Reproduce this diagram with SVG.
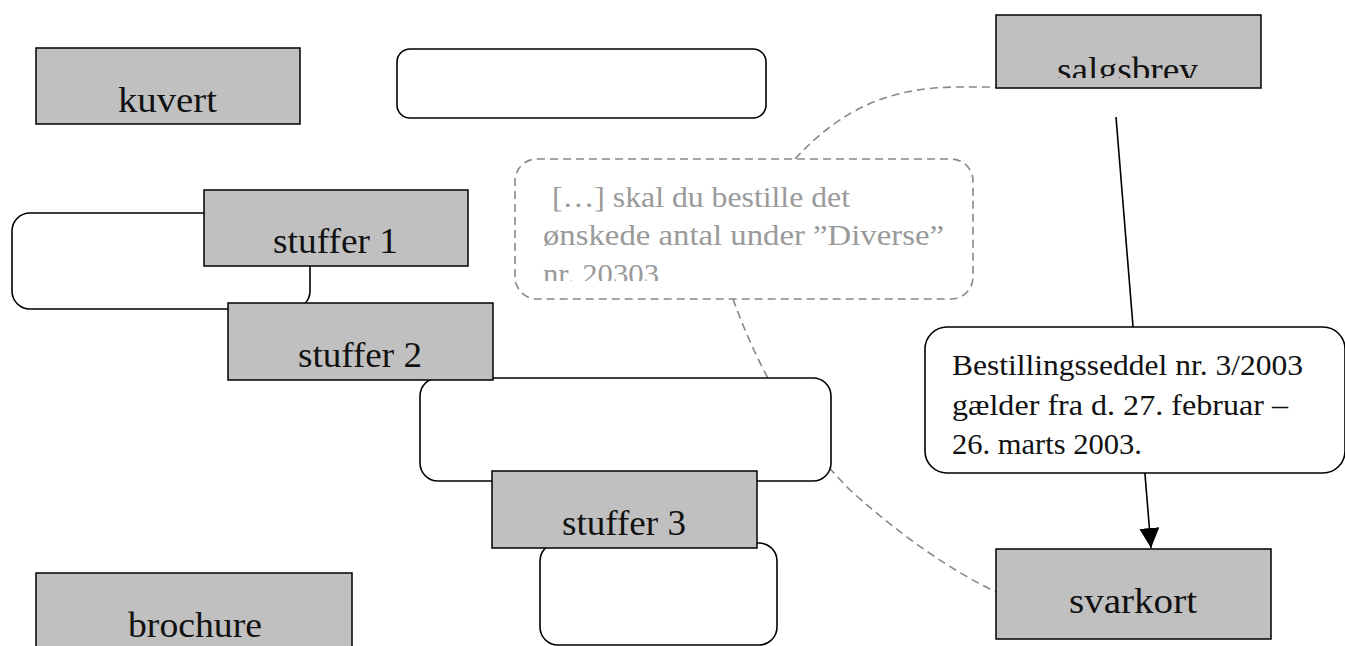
<svg xmlns="http://www.w3.org/2000/svg" width="1345" height="646" viewBox="0 0 1345 646">
<style>
.box{fill:#c0c0c0;stroke:#000;stroke-width:1.5}
.rr{fill:#fff;stroke:#000;stroke-width:1.6}
.lbl{font-family:"Liberation Serif",serif;font-size:35px;fill:#111}
.txt{font-family:"Liberation Serif",serif;font-size:29px;fill:#111}
.gtxt{font-family:"Liberation Serif",serif;font-size:30px;fill:#9a9a9a}
.dash{fill:none;stroke:#888;stroke-width:1.6;stroke-dasharray:8 5}
.solid{fill:none;stroke:#000;stroke-width:1.6}
</style>
<defs>
<marker id="arr" markerUnits="userSpaceOnUse" markerWidth="20" markerHeight="20" refX="20" refY="10" orient="auto">
<path d="M0,0 L20,10 L0,20 z" fill="#000"/>
</marker>
<clipPath id="clipSalg"><rect x="996" y="15" width="265" height="63"/></clipPath>
<clipPath id="clipNote"><rect x="515" y="159" width="458" height="122"/></clipPath>
</defs>
<g id="connectors">
<path class="dash" d="M795,159 C845,105 895,87 960,87 L996,87"/>
<path class="dash" d="M733,299 C755,360 790,430 850,490 C900,535 950,570 996,592"/>
<line class="solid" x1="1116" y1="117" x2="1151" y2="548" marker-end="url(#arr)"/>
</g>
<g id="kuvert">
<rect class="box" x="36" y="48" width="264" height="76"/>
<text class="lbl" x="118" y="112" textLength="99" lengthAdjust="spacingAndGlyphs">kuvert</text>
</g>
<g id="blank-top">
<rect class="rr" x="397" y="49" width="369" height="69" rx="13" ry="13"/>
</g>
<g id="salgsbrev">
<rect class="box" x="996" y="15" width="265" height="73"/>
<text class="lbl" x="1057" y="82" textLength="141" lengthAdjust="spacingAndGlyphs" clip-path="url(#clipSalg)">salgsbrev</text>
</g>
<g id="blank-left">
<rect class="rr" x="12" y="213" width="298" height="96" rx="18" ry="18"/>
</g>
<g id="stuffer1">
<rect class="box" x="204" y="190" width="264" height="76"/>
<text class="lbl" x="273" y="253" textLength="125" lengthAdjust="spacingAndGlyphs">stuffer 1</text>
</g>
<g id="blank-middle">
<rect class="rr" x="420" y="378" width="411" height="103" rx="18" ry="18"/>
</g>
<g id="stuffer2">
<rect class="box" x="228" y="303" width="265" height="77"/>
<text class="lbl" x="298" y="367" textLength="124" lengthAdjust="spacingAndGlyphs">stuffer 2</text>
</g>
<g id="blank-bottom">
<rect class="rr" x="540" y="543" width="237" height="102" rx="18" ry="18"/>
</g>
<g id="stuffer3">
<rect class="box" x="492" y="471" width="265" height="77"/>
<text class="lbl" x="562" y="535" textLength="124" lengthAdjust="spacingAndGlyphs">stuffer 3</text>
</g>
<g id="note">
<rect class="dash" x="515" y="159" width="458" height="140" rx="22" ry="22" style="fill:#fff"/>
<g clip-path="url(#clipNote)">
<text class="gtxt" x="552" y="207" textLength="298" lengthAdjust="spacingAndGlyphs">[…] skal du bestille det</text>
<text class="gtxt" x="543" y="245" textLength="401" lengthAdjust="spacingAndGlyphs">ønskede antal under ”Diverse”</text>
<text class="gtxt" x="543" y="284" textLength="116" lengthAdjust="spacingAndGlyphs">nr. 20303</text>
</g>
</g>
<g id="bestillingsseddel">
<rect class="rr" x="925" y="327" width="420" height="146" rx="22" ry="22"/>
<text class="txt" x="952" y="375" textLength="351" lengthAdjust="spacingAndGlyphs">Bestillingsseddel nr. 3/2003</text>
<text class="txt" x="952" y="415" textLength="336" lengthAdjust="spacingAndGlyphs">gælder fra d. 27. februar –</text>
<text class="txt" x="952" y="454" textLength="190" lengthAdjust="spacingAndGlyphs">26. marts 2003.</text>
</g>
<g id="svarkort">
<rect class="box" x="996" y="549" width="275" height="90"/>
<text class="lbl" x="1069" y="613" textLength="128" lengthAdjust="spacingAndGlyphs">svarkort</text>
</g>
<g id="brochure">
<rect class="box" x="36" y="573" width="316" height="80"/>
<text class="lbl" x="128" y="637" textLength="134" lengthAdjust="spacingAndGlyphs">brochure</text>
</g>
</svg>
